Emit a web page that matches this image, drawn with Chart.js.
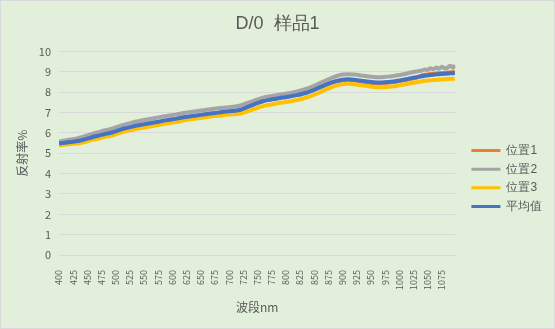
<!DOCTYPE html>
<html>
<head>
<meta charset="utf-8">
<script src="https://cdn.jsdelivr.net/npm/chart.js@4"></script>
<style>
body { margin: 0; }
#box { width: 553px; height: 327px; border: 1px solid #D9D9D9; background: #E2EFDA; }
</style>
</head>
<body>
<div id="box"><canvas id="grafica" width="553" height="327"></canvas></div>
<script>
var ctx = document.getElementById("grafica").getContext('2d');

// 波长 (nm)
var wavelengths = [400, 410, 420, 430, 440, 450, 460, 470, 480, 490,
    500, 510, 520, 530, 540, 550, 560, 570, 580, 590,
    600, 610, 620, 630, 640, 650, 660, 670, 680, 690,
    700, 710, 720, 730, 740, 750, 760, 770, 780, 790,
    800, 810, 820, 830, 840, 850, 860, 870, 880, 890,
    900, 910, 920, 930, 940, 950, 960, 970, 980, 990,
    1000, 1010, 1020, 1030, 1040, 1045, 1050, 1055, 1060, 1065,
    1070, 1075, 1080, 1085, 1090, 1095, 1098];

var pos1 = [5.47, 5.51, 5.54, 5.57, 5.61, 5.69, 5.76, 5.84, 5.90, 5.97,
    6.04, 6.14, 6.20, 6.28, 6.34, 6.38, 6.43, 6.48, 6.53, 6.58,
    6.62, 6.67, 6.71, 6.75, 6.79, 6.83, 6.87, 6.91, 6.95, 7.00,
    7.03, 7.05, 7.12, 7.26, 7.40, 7.53, 7.62, 7.69, 7.74, 7.79,
    7.83, 7.88, 7.92, 7.99, 8.06, 8.16, 8.27, 8.37, 8.47, 8.54,
    8.59, 8.61, 8.59, 8.54, 8.50, 8.46, 8.45, 8.45, 8.47, 8.50,
    8.55, 8.60, 8.66, 8.71, 8.83, 8.86, 8.87, 8.90, 8.90, 8.93,
    8.93, 8.95, 8.95, 8.97, 8.98, 8.99, 9.00];

var pos2 = [5.58, 5.63, 5.68, 5.72, 5.79, 5.88, 5.97, 6.04, 6.12, 6.18,
    6.27, 6.37, 6.45, 6.52, 6.58, 6.64, 6.69, 6.74, 6.79, 6.84,
    6.88, 6.93, 6.98, 7.02, 7.06, 7.10, 7.14, 7.18, 7.21, 7.24,
    7.27, 7.30, 7.35, 7.45, 7.55, 7.65, 7.74, 7.79, 7.84, 7.89,
    7.93, 7.98, 8.04, 8.11, 8.20, 8.32, 8.45, 8.58, 8.70, 8.80,
    8.87, 8.89, 8.87, 8.84, 8.80, 8.76, 8.74, 8.74, 8.77, 8.80,
    8.85, 8.90, 8.97, 9.02, 9.07, 9.12, 9.10, 9.18, 9.13, 9.22,
    9.15, 9.26, 9.17, 9.21, 9.30, 9.20, 9.34];

var pos3 = [5.39, 5.42, 5.46, 5.48, 5.52, 5.59, 5.67, 5.73, 5.80, 5.85,
    5.93, 6.03, 6.10, 6.16, 6.22, 6.27, 6.32, 6.37, 6.42, 6.47,
    6.51, 6.56, 6.62, 6.66, 6.70, 6.74, 6.78, 6.82, 6.84, 6.88,
    6.91, 6.92, 6.95, 7.04, 7.13, 7.23, 7.32, 7.38, 7.43, 7.48,
    7.52, 7.57, 7.62, 7.69, 7.77, 7.88, 8.00, 8.13, 8.24, 8.34,
    8.40, 8.42, 8.40, 8.36, 8.32, 8.28, 8.25, 8.25, 8.26, 8.29,
    8.34, 8.39, 8.44, 8.49, 8.54, 8.56, 8.58, 8.59, 8.60, 8.61,
    8.62, 8.63, 8.64, 8.65, 8.66, 8.66, 8.67];

var promedio = [5.48, 5.52, 5.56, 5.59, 5.64, 5.72, 5.80, 5.87, 5.94, 6.00,
    6.08, 6.18, 6.25, 6.32, 6.38, 6.43, 6.48, 6.53, 6.58, 6.63,
    6.67, 6.72, 6.77, 6.81, 6.85, 6.89, 6.93, 6.97, 7.00, 7.04,
    7.07, 7.09, 7.14, 7.25, 7.36, 7.47, 7.56, 7.62, 7.67, 7.72,
    7.76, 7.81, 7.86, 7.93, 8.01, 8.12, 8.24, 8.36, 8.47, 8.56,
    8.62, 8.64, 8.62, 8.58, 8.54, 8.50, 8.48, 8.48, 8.50, 8.53,
    8.58, 8.63, 8.69, 8.74, 8.79, 8.81, 8.83, 8.85, 8.86, 8.88,
    8.89, 8.90, 8.91, 8.92, 8.93, 8.94, 8.95];

var nombres = ["位置1", "位置2", "位置3", "平均值"];
var colores = ["#ED7D31", "#A5A5A5", "#FFC000", "#4472C4"];
var series = [pos1, pos2, pos3, promedio];

var gris = "#595959";
var fuente = "'Noto Sans CJK SC', 'Noto Sans', sans-serif";

function puntos(valores) {
    return valores.map(function (v, i) { return { x: wavelengths[i], y: v }; });
}

var datasets = series.map(function (s, i) {
    return {
        label: nombres[i],
        data: puntos(s),
        borderColor: colores[i],
        backgroundColor: colores[i],
        borderWidth: 4,
        pointRadius: 0,
        tension: 0.3,
        order: 4 - i   // el promedio queda encima
    };
});

// mover la leyenda y el título un poco
var mover = {
    id: 'mover',
    afterLayout: function (chart) {
        var lg = chart.legend;
        lg.left += 9.4; lg.right += 9.4;
        lg.top += 14; lg.bottom += 14;
        var t = chart.titleBlock;
        t.left += 5.5; t.right += 5.5;
    }
};

var myChart = new Chart(ctx, {
    type: 'line',
    data: { datasets: datasets },
    plugins: [mover],
    options: {
        responsive: false,
        animation: false,
        devicePixelRatio: 1,
        font: { family: fuente },
        color: gris,
        layout: { padding: { right: 11 } },
        plugins: {
            title: {
                display: true,
                text: 'D/0  样品1',
                color: gris,
                font: { size: 18, weight: 'normal' },
                padding: { top: 12, bottom: 17 }
            },
            legend: {
                position: 'right',
                labels: {
                    color: gris,
                    font: { size: 12 },
                    boxWidth: 29,
                    boxHeight: 3,
                    padding: 6.6,
                    generateLabels: function (chart) {
                        var items = Chart.defaults.plugins.legend.labels.generateLabels(chart);
                        items.forEach(function (it) { it.lineWidth = 0; });
                        items.sort(function (a, b) { return a.datasetIndex - b.datasetIndex; });
                        return items;
                    }
                }
            },
            tooltip: { enabled: false }
        },
        scales: {
            x: {
                type: 'linear',
                min: 400,
                max: 1099,
                grid: { display: false },
                border: { display: false },
                ticks: {
                    stepSize: 25,
                    includeBounds: false,
                    autoSkip: false,
                    minRotation: 90,
                    maxRotation: 90,
                    padding: 7,
                    color: gris,
                    font: { size: 9 },
                    callback: function (v) { return String(v); }
                },
                title: {
                    display: true,
                    text: '波段nm',
                    color: gris,
                    font: { size: 12 },
                    padding: { top: 0, bottom: 13 }
                },
                afterFit: function (scale) { scale.height = 73; }
            },
            y: {
                min: 0,
                max: 10,
                grid: { color: '#D9D9D9', drawTicks: false },
                border: { display: false },
                ticks: {
                    stepSize: 1,
                    padding: 8,
                    color: gris,
                    font: { size: 11 }
                },
                title: {
                    display: true,
                    text: '反射率%',
                    color: gris,
                    font: { size: 12 },
                    padding: { top: 14, bottom: 0 }
                },
                afterFit: function (scale) { scale.width = 58; }
            }
        }
    }
});
</script>
</body>
</html>
